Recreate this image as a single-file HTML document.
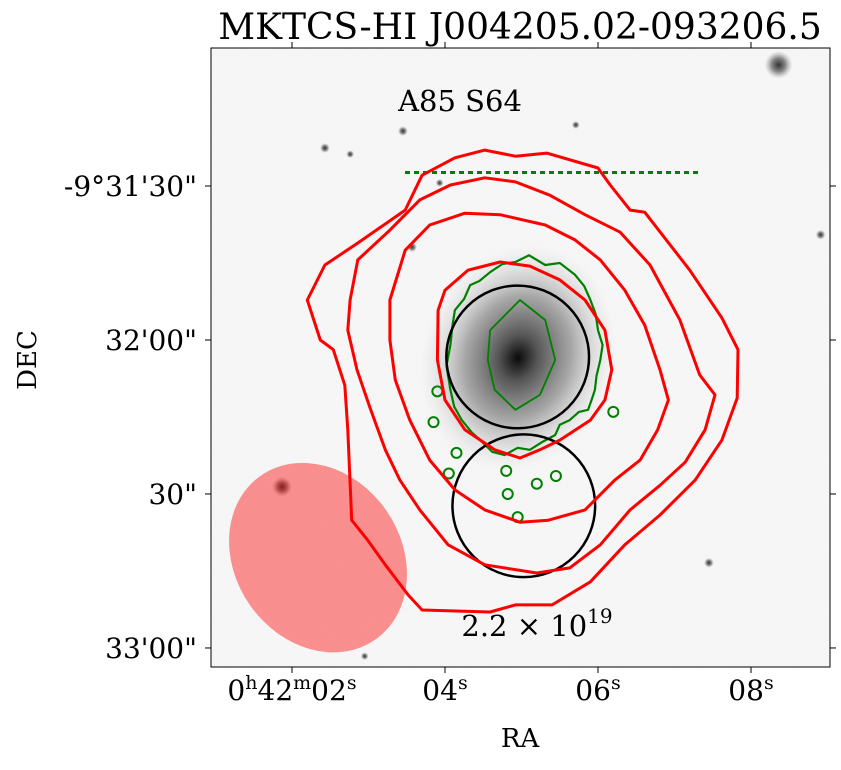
<!DOCTYPE html>
<html><head><meta charset="utf-8"><style>
body{margin:0;background:#fff;}
svg text{font-family:"DejaVu Serif","Liberation Serif",serif;fill:#000;}
</style></head><body>
<svg id="chart" width="841" height="765" viewBox="0 0 841 765" xmlns="http://www.w3.org/2000/svg">
<defs>
<clipPath id="clip"><rect x="211" y="48" width="619" height="619"/></clipPath>
<radialGradient id="gal" cx="0.5" cy="0.5" r="0.5">
<stop offset="0" stop-color="#0a0a0a"/>
<stop offset="0.2" stop-color="#555"/>
<stop offset="0.55" stop-color="#999" stop-opacity="0.85"/>
<stop offset="0.8" stop-color="#ccc" stop-opacity="0.5"/>
<stop offset="1" stop-color="#ddd" stop-opacity="0"/>
</radialGradient>
<radialGradient id="star" cx="0.5" cy="0.5" r="0.5">
<stop offset="0" stop-color="#333"/><stop offset="0.5" stop-color="#888"/><stop offset="1" stop-color="#bbb" stop-opacity="0"/>
</radialGradient>
<filter id="noise"><feTurbulence type="fractalNoise" baseFrequency="0.9" numOctaves="1" result="n"/><feColorMatrix type="matrix" values="0 0 0 0 0.5  0 0 0 0 0.5  0 0 0 0 0.5  0 0 0 0.25 0"/></filter>
</defs>
<text x="520" y="39" font-size="36" text-anchor="middle">MKTCS-HI J004205.02-093206.5</text>
<g clip-path="url(#clip)" id="plot">
<rect x="211" y="48" width="619" height="619" fill="#f8f8f8"/>
<rect x="211" y="48" width="619" height="619" filter="url(#noise)" opacity="0.3"/>
<g id="stars"></g>
<ellipse cx="518" cy="358" rx="95" ry="115" transform="rotate(20 518 358)" fill="url(#gal)"/>
<g id="marks"></g>
<text x="460" y="111" font-size="29" text-anchor="middle">A85 S64</text>
<text x="537" y="636" font-size="29" text-anchor="middle">2.2 × 10<tspan dy="-13" font-size="20">19</tspan></text>
</g>
<rect x="211" y="48" width="619" height="619" fill="none" stroke="#000" stroke-width="1"/>
<g id="axes"></g>
<text x="520" y="747" font-size="26" text-anchor="middle">RA</text>
<text transform="translate(36 360) rotate(-90)" font-size="26" text-anchor="middle">DEC</text>
</svg>
<script>
// RA in seconds (0h42m + s), Dec offset in arcsec south of -9°31'30"
const raTicks=[2,4,6,8];
const raTickLabels=["0h42m02s","04s","06s","08s"];
const decTicks=[0,30,60,90];
const decTickLabels=["-9°31'30\"","32'00\"","30\"","33'00\""];
const c1Ra=[2.20,2.37,2.54,2.69,2.73,2.78,2.99,3.22,3.52,3.70,4.59,4.92,5.40,5.90,6.35,6.81,7.27,7.62,7.82,7.83,7.62,7.20,6.61,6.42,6.16,6.00,5.33,4.92,4.52,4.13,3.70,3.48,2.86,2.43];
const c1Dec=[22.2,30.0,31.9,38.8,47.5,65.1,69.0,73.8,79.7,82.6,83.0,81.6,81.6,77.1,69.9,64.1,57.3,49.5,41.3,31.9,25.7,16.4,5.1,4.7,-0.2,-3.5,-6.4,-5.8,-7.0,-5.5,-2.1,4.7,11.1,15.4];
const c2Ra=[2.76,2.86,3.28,3.67,4.07,4.52,4.92,5.37,5.83,6.29,6.68,7.07,7.33,7.53,7.40,7.14,6.81,6.42,6.03,5.63,5.20,4.52,4.04,3.67,3.41,3.22,3.02,2.85,2.73];
const c2Dec=[22.2,14.4,8.6,2.7,-0.2,-1.6,-0.8,1.8,5.6,9.0,15.4,26.1,36.8,40.7,47.5,53.8,58.3,63.1,69.9,74.4,75.4,73.8,69.9,63.1,57.3,51.4,43.2,35.8,28.1];
const c3Ra=[3.28,3.48,3.80,4.26,4.72,5.31,5.70,6.03,6.35,6.61,6.81,6.92,6.78,6.55,6.22,5.83,5.35,4.98,4.52,4.13,3.80,3.54,3.35,3.28];
const c3Dec=[22.2,12.5,7.6,5.3,5.6,7.6,10.5,14.4,20.3,27.1,35.8,41.7,47.5,53.4,57.3,63.1,65.1,65.5,63.1,59.2,53.4,45.6,37.8,30.0];
const c4Ra=[3.91,4.00,4.30,4.72,5.11,5.50,5.83,6.09,6.18,6.09,5.90,5.50,5.24,4.98,4.65,4.26,4.00,3.90];
const c4Dec=[24.2,20.3,16.4,14.8,15.6,18.3,22.2,28.1,35.8,41.7,45.6,49.5,51.4,53.0,51.4,47.5,41.7,33.9];
const g1Ra=[4.07,4.10,4.13,4.25,4.33,4.45,4.59,4.75,4.92,5.10,5.31,5.50,5.70,5.82,5.90,5.97,6.00,6.06,6.03,5.98,5.96,5.92,5.87,5.75,5.63,5.50,5.44,5.28,5.11,4.95,4.78,4.62,4.46,4.35,4.22,4.12,4.07,4.02];
const g1Dec=[31.0,27.0,24.2,22.0,19.3,18.5,16.8,15.2,14.8,13.5,15.4,15.0,17.3,19.5,22.2,25.0,28.1,31.0,33.9,37.0,39.7,41.5,43.6,44.0,45.6,46.5,48.5,49.8,51.4,51.0,52.4,51.8,49.5,48.0,45.6,43.0,39.7,35.0];
const g2Ra=[4.59,4.98,5.31,5.44,5.24,4.92,4.65,4.56];
const g2Dec=[28.1,22.2,26.1,33.9,40.7,43.6,39.7,33.9];
const blobRa=[3.90,4.15,4.80,5.45,4.05,4.82,5.20,4.95,6.20,3.85];
const blobDec=[40.0,52.0,55.5,56.5,56.0,60.0,58.0,64.5,44.0,46.0];
const apRa=[4.95,5.03];
const apDec=[33.3,62.3];
const apRadiusArcsec=13.9;
const beamRa=[2.34]; const beamDec=[72.4];
const starRa=[1.87,3.57,3.93,8.36,7.45,2.95,3.45,5.71,2.43,2.76,8.91];
const starDec=[58.6,11.9,-0.6,-23.6,73.4,91.6,-10.7,-11.9,-7.4,-6.2,9.5];
const starSize=[10,5,4,14,5,4,5,4,5,4,5];

const NS='http://www.w3.org/2000/svg';
function xS(s){return 292+(s-2)*76.5;}
function yD(d){return 186+d*5.133;}
function mk(tag,attrs,parent){const e=document.createElementNS(NS,tag);for(const k in attrs)e.setAttribute(k,attrs[k]);parent.appendChild(e);return e;}
const marks=document.getElementById('marks'),axes=document.getElementById('axes'),stars=document.getElementById('stars');
starRa.forEach((r,i)=>{const e=mk('circle',{cx:xS(r),cy:yD(starDec[i]),r:starSize[i],fill:'url(#star)'},stars);

});
function poly(ra,dec,color,w,name){const pts=ra.map((r,i)=>xS(r).toFixed(1)+','+yD(dec[i]).toFixed(1)).join(' ');
const e=mk('polygon',{points:pts,fill:'none',stroke:color,'stroke-width':w,'stroke-linejoin':'round'},marks);

}
poly(g1Ra,g1Dec,'#008000',2.2,'green-contour-outer');
poly(g2Ra,g2Dec,'#008000',1.8,'green-contour-inner');
blobRa.forEach((r,i)=>{const e=mk('circle',{cx:xS(r),cy:yD(blobDec[i]),r:5,fill:'none',stroke:'#008000','stroke-width':2},marks);

});
for(let r=405;r<=695;r+=9){const e=mk('rect',{x:r,y:171,width:5,height:3,fill:'#008000'},marks);

}
apRa.forEach((r,i)=>{const e=mk('circle',{cx:xS(r),cy:yD(apDec[i]),r:apRadiusArcsec*5.133,fill:'none',stroke:'#000','stroke-width':2.5},marks);

});
poly(c1Ra,c1Dec,'#ff0000',3,'hi-contour-1');
poly(c2Ra,c2Dec,'#ff0000',3,'hi-contour-2');
poly(c3Ra,c3Dec,'#ff0000',3,'hi-contour-3');
poly(c4Ra,c4Dec,'#ff0000',3,'hi-contour-4');
beamRa.forEach((r,i)=>{const cx=xS(r),cy=yD(beamDec[i]);
const e=mk('ellipse',{cx:cx,cy:cy,rx:100,ry:83,transform:'rotate(55 '+cx+' '+cy+')',fill:'#ff0000','fill-opacity':0.42},marks);

});
raTicks.forEach((t,i)=>{const x=xS(t);
mk('line',{x1:x,y1:667,x2:x,y2:673,stroke:'#000'},axes);mk('line',{x1:x,y1:48,x2:x,y2:42,stroke:'#000'},axes);
const tx=mk('text',{x:x,y:700,'font-size':28,'text-anchor':'middle'},axes);
const lab=raTickLabels[i];
if(i===0){tx.innerHTML='0<tspan dy="-11" font-size="19">h</tspan><tspan dy="11">42</tspan><tspan dy="-11" font-size="19">m</tspan><tspan dy="11">02</tspan><tspan dy="-11" font-size="19">s</tspan>';}
else{tx.innerHTML=lab.replace('s','')+'<tspan dy="-11" font-size="19">s</tspan>';}

});
decTicks.forEach((t,i)=>{const y=yD(t);
mk('line',{x1:211,y1:y,x2:205,y2:y,stroke:'#000'},axes);mk('line',{x1:830,y1:y,x2:836,y2:y,stroke:'#000'},axes);
const tx=mk('text',{x:197,y:y+10,'font-size':28,'text-anchor':'end'},axes);tx.textContent=decTickLabels[i];

});
</script>
</body></html>
